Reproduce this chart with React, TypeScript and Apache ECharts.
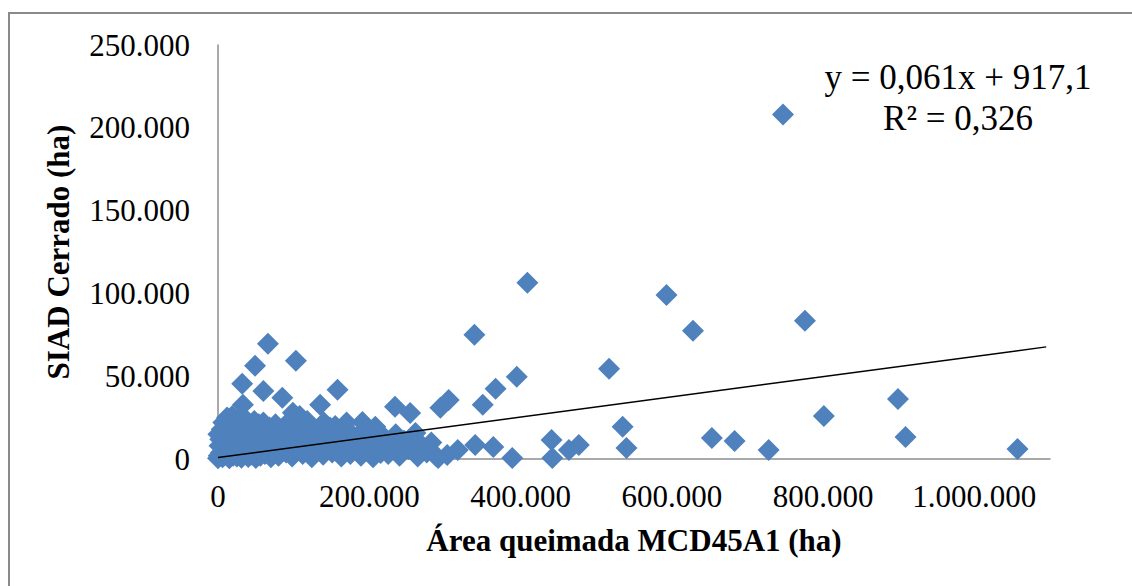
import React, { useEffect, useRef } from "react";
import * as echarts from "echarts";

// Área queimada MCD45A1 (ha) vs SIAD Cerrado (ha)
const clusterPoints: [number, number][] = [
  [0, 500], [1000, 2000], [2000, 8000], [3000, 12000], [500, 15000], [4000, 4000], [5000, 18000],
  [6000, 1000], [7000, 22000], [8000, 6000], [9000, 10000], [10000, 14000], [11000, 3000],
  [12000, 25000], [13000, 9000], [14000, 17000], [15000, 500], [16000, 21000], [17000, 5000],
  [18000, 12000], [19000, 26000], [20000, 2000], [21000, 15000], [22000, 7000], [23000, 19000],
  [24000, 11000], [25000, 1500], [26000, 23000], [27000, 4000], [28000, 16000], [29000, 9000],
  [30000, 13000], [31000, 800], [32000, 20000], [33000, 6000], [34000, 25000], [35000, 11000],
  [36000, 3000], [37000, 17000], [38000, 8000], [39000, 22000], [40000, 1200], [41000, 14000],
  [42000, 5000], [43000, 19000], [44000, 10000], [45000, 2500], [46000, 16000], [47000, 7000],
  [48000, 23000], [49000, 12000], [50000, 600], [51000, 18000], [52000, 4000], [53000, 9000],
  [54000, 21000], [55000, 14000], [56000, 2000], [57000, 11000], [58000, 6000], [59000, 17000],
  [60000, 22000], [62000, 3000], [64000, 13000], [66000, 8000], [68000, 19000], [70000, 1000],
  [72000, 15000], [74000, 5000], [76000, 21000], [78000, 10000], [80000, 2000], [82000, 17000],
  [84000, 7000], [86000, 12000], [88000, 20000], [90000, 4000], [92000, 14000], [94000, 9000],
  [96000, 18000], [98000, 1500], [100000, 11000], [103000, 6000], [106000, 16000], [109000, 21000],
  [112000, 3000], [115000, 13000], [118000, 8000], [121000, 18000], [124000, 1000], [127000, 15000],
  [130000, 5000], [133000, 10000], [136000, 17000], [139000, 2500], [142000, 12000], [145000, 7000],
  [148000, 19000], [151000, 4000], [154000, 14000], [157000, 9000], [160000, 16000], [163000, 1500],
  [166000, 11000], [169000, 6000], [172000, 17000], [175000, 3000], [178000, 12000], [181000, 8000],
  [185000, 14000], [189000, 2000], [193000, 10000], [197000, 5000], [201000, 15000], [205000, 1000],
  [210000, 12000], [215000, 7000], [220000, 13000], [225000, 3000], [230000, 9000], [235000, 15000],
  [240000, 2000], [246000, 11000], [252000, 6000], [258000, 12000], [264000, 1500], [270000, 8000],
  [276000, 4000], [282000, 10000], [288000, 2000],
  [99000, 28000], [108000, 26000], [118000, 23000], [140000, 22000], [155000, 20000], [170000, 22000],
];

const outlierPoints: [number, number][] = [
  [747000, 208000], [409000, 106500], [593000, 99000], [776000, 83500], [628000, 77500],
  [339000, 75000], [66000, 69600], [103000, 59300], [49000, 56300], [517000, 54500],
  [395000, 49600], [32000, 45400], [60000, 41000], [158000, 41800], [367000, 42400],
  [899000, 36300], [85000, 37000], [33000, 32700], [135000, 32700], [350000, 32700],
  [305000, 35700], [294000, 30900], [234000, 31500], [254000, 27800], [801000, 26000],
  [191000, 22400], [208000, 19400], [261000, 15700], [535000, 19400], [909000, 13300],
  [653000, 12700], [683000, 10900], [441000, 11500], [728000, 5400], [1057000, 6000],
  [540000, 6700], [477000, 8500], [464000, 5400], [442000, 600], [389000, 600],
  [364000, 7300], [340000, 8500], [317000, 5400], [303000, 2400], [291000, 600],
  [265000, 3600], [238000, 5400], [215000, 3600], [197000, 7300],
];

// Linear trend line: y = 0,061x + 917,1
const trendLine: [number, number][] = [
  [0, 917.1],
  [1095000, 67712],
];

const equationText = "y = 0,061x + 917,1";
const r2Text = "R² = 0,326";

const fmt = (v: number) => String(Math.round(v)).replace(/\B(?=(\d{3})+(?!\d))/g, ".");

export default function App() {
  const ref = useRef<HTMLDivElement>(null);
  useEffect(() => {
    if (!ref.current) return;
    const chart = echarts.init(ref.current, undefined, { renderer: "svg" });
    const font = "'Liberation Serif', 'Times New Roman', serif";
    chart.setOption({
      animation: false,
      backgroundColor: "#ffffff",
      grid: { left: 218, right: 82, top: 45, bottom: 127 },
      xAxis: {
        type: "value",
        min: 0,
        max: 1100000,
        interval: 200000,
        splitLine: { show: false },
        axisTick: { show: false },
        axisLine: { lineStyle: { color: "#8c8c8c", width: 1.5 } },
        axisLabel: {
          showMaxLabel: false,
          formatter: (v: number) => fmt(v),
          color: "#000",
          fontFamily: font,
          fontSize: 31,
          margin: 22,
        },
        name: "Área queimada MCD45A1 (ha)",
        nameLocation: "middle",
        nameGap: 66,
        nameTextStyle: { color: "#000", fontFamily: font, fontSize: 31, fontWeight: "bold" },
      },
      yAxis: {
        type: "value",
        min: 0,
        max: 250000,
        interval: 50000,
        splitLine: { show: false },
        axisTick: { show: false },
        axisLine: { show: true, lineStyle: { color: "#8c8c8c", width: 1.5 } },
        axisLabel: {
          formatter: (v: number) => fmt(v),
          color: "#000",
          fontFamily: font,
          fontSize: 31,
          margin: 28,
        },
        name: "SIAD Cerrado (ha)",
        nameLocation: "middle",
        nameGap: 144,
        nameTextStyle: { color: "#000", fontFamily: font, fontSize: 31, fontWeight: "bold" },
      },
      graphic: [
        {
          type: "rect",
          shape: { x: 9, y: 13, width: 1400, height: 900 },
          style: { fill: "none", stroke: "#8a8a8a", lineWidth: 2 },
          silent: true,
        },
        {
          type: "text",
          x: 958,
          y: 77,
          style: {
            text: equationText,
            font: `35px ${font}`,
            fill: "#000",
            align: "center",
            verticalAlign: "middle",
          },
        },
        {
          type: "text",
          x: 958,
          y: 118,
          style: {
            text: r2Text,
            font: `35px ${font}`,
            fill: "#000",
            align: "center",
            verticalAlign: "middle",
          },
        },
      ],
      series: [
        {
          type: "scatter",
          symbol: "diamond",
          symbolSize: 22,
          itemStyle: { color: "#4F81BD", opacity: 1 },
          data: [...clusterPoints, ...outlierPoints],
          clip: false,
        },
        {
          type: "line",
          data: trendLine,
          showSymbol: false,
          symbol: "none",
          lineStyle: { color: "#000", width: 1.5 },
          z: 5,
        },
      ],
    });
    return () => chart.dispose();
  }, []);
  return (
    <div
      ref={ref}
      style={{ position: "fixed", left: 0, top: 0, width: 1132, height: 586 }}
    />
  );
}
